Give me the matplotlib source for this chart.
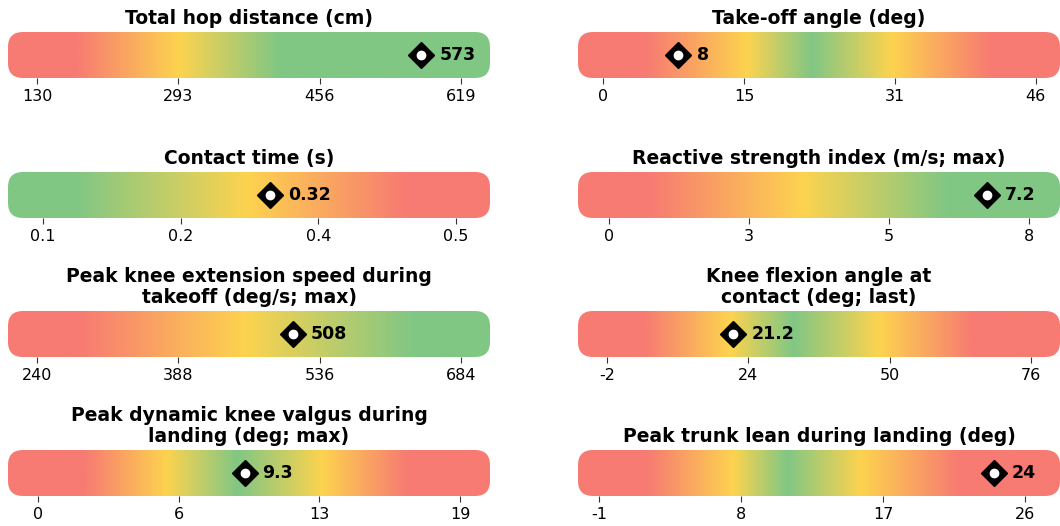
import numpy as np
import matplotlib
matplotlib.use("Agg")
import matplotlib.pyplot as plt
from matplotlib.patches import FancyBboxPatch
from matplotlib.colors import to_rgb

# left column top->bottom, then right column top->bottom
titles = [
    "Total hop distance (cm)",
    "Contact time (s)",
    "Peak knee extension speed during\ntakeoff (deg/s; max)",
    "Peak dynamic knee valgus during\nlanding (deg; max)",
    "Take-off angle (deg)",
    "Reactive strength index (m/s; max)",
    "Knee flexion angle at\ncontact (deg; last)",
    "Peak trunk lean during landing (deg)",
]
values = [573, 0.32, 508, 9.3, 8, 7.2, 21.2, 24]
value_labels = ["573", "0.32", "508", "9.3", "8", "7.2", "21.2", "24"]

bar_lo = [96.6, 0.066, 209.6, -1.35, -2.69, -0.6, -7.4, -2.35]
bar_hi = [652.4, 0.533, 714.4, 20.35, 48.6, 8.6, 81.4, 28.2]

tick_values = [
    [130, 293, 456, 619],
    [0.1, 0.2333, 0.3667, 0.5],
    [240, 388, 536, 684],
    [0, 6.333, 12.667, 19],
    [0, 15, 31, 46],
    [0, 2.667, 5.333, 8],
    [-2, 24, 50, 76],
    [-1, 8, 17, 26],
]
tick_labels = [
    ["130", "293", "456", "619"],
    ["0.1", "0.2", "0.4", "0.5"],
    ["240", "388", "536", "684"],
    ["0", "6", "13", "19"],
    ["0", "15", "31", "46"],
    ["0", "3", "5", "8"],
    ["-2", "24", "50", "76"],
    ["-1", "8", "17", "26"],
]

# colour zones along each scale
stop_values = [
    [176, 293.8, 409],
    [0.133, 0.298, 0.451],
    [287, 458, 634],
    [2.1, 5.8, 9.0, 12.8, 16.6],
    [4.65, 15.3, 22.2, 30.7, 41.2],
    [0.78, 3.7, 6.44],
    [4.9, 20.6, 32.3, 48.2, 65.4],
    [2.1, 7.5, 10.9, 15.6, 21.8],
]
stop_colors = [
    ["r", "y", "g"],
    ["g", "y", "r"],
    ["r", "y", "g"],
    ["r", "y", "g", "y", "r"],
    ["r", "y", "g", "y", "r"],
    ["r", "y", "g"],
    ["r", "y", "g", "y", "r"],
    ["r", "y", "g", "y", "r"],
]
palette = {"r": "#F77B72", "y": "#FDD34F", "g": "#81C784"}

W, H = 1060, 526
fig = plt.figure(figsize=(W / 100, H / 100), dpi=100)

bar_w, bar_h = 482, 46
col_x = [8, 578]
row_bottom = [78, 218, 357, 496]

for i in range(8):
    col = i // 4
    row = i % 4
    ax = fig.add_axes([col_x[col] / W, 1 - row_bottom[row] / H, bar_w / W, bar_h / H])
    lo, hi = bar_lo[i], bar_hi[i]

    xs = np.linspace(lo, hi, 800)
    cols = np.array([to_rgb(palette[c]) for c in stop_colors[i]])
    rgb = np.stack([np.interp(xs, stop_values[i], cols[:, k]) for k in range(3)], axis=-1)
    im = ax.imshow(rgb[np.newaxis, :, :], extent=[lo, hi, 0, 1], aspect="auto",
                   interpolation="bilinear")
    clip = FancyBboxPatch((0, 0), 1, 1, boxstyle="round,pad=0,rounding_size=%f" % (15 / bar_w),
                          mutation_aspect=bar_w / bar_h, transform=ax.transAxes,
                          facecolor="none", edgecolor="none")
    im.set_clip_path(clip)
    ax.set_xlim(lo, hi)
    ax.set_ylim(0, 1)

    v = values[i]
    ax.plot(v, 0.5, marker="D", ms=13, color="black", zorder=5, clip_on=False)
    ax.plot(v, 0.5, marker="o", ms=6, color="white", zorder=6, clip_on=False)
    ax.annotate(value_labels[i], (v, 0.5), xytext=(13, 0), textcoords="offset points",
                va="center", ha="left", fontsize=12.5, fontweight="bold", zorder=7)

    ax.set_xticks(tick_values[i])
    ax.set_xticklabels(tick_labels[i], fontsize=11.5)
    ax.tick_params(axis="x", length=4, width=0.8, color="#333333", pad=4)
    ax.set_yticks([])
    for s in ax.spines.values():
        s.set_visible(False)
    ax.set_title(titles[i], fontsize=13.5, fontweight="bold", pad=6, linespacing=1.1)

fig.savefig("out.png", dpi=100)
